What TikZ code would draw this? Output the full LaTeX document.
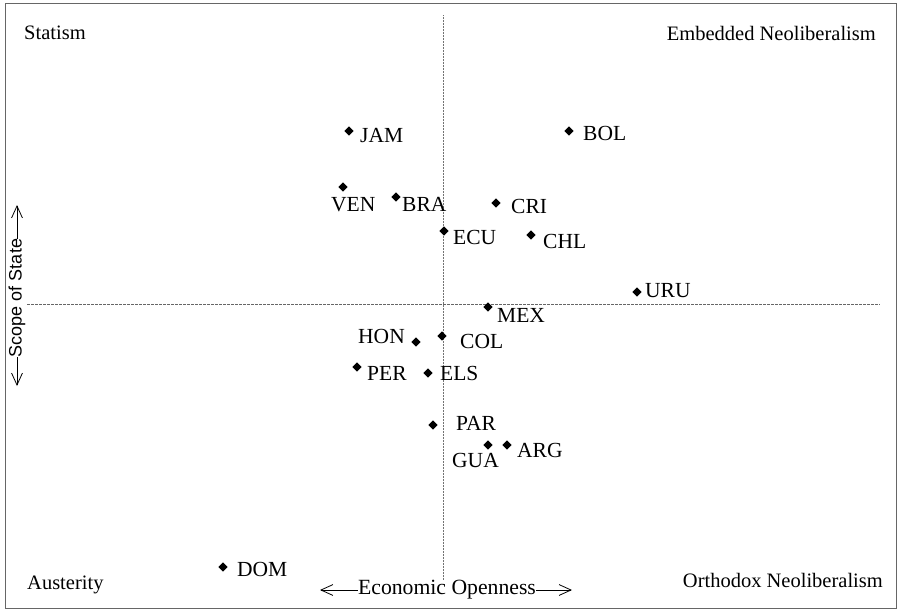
\documentclass[tikz,border=0pt]{standalone}
\usepackage{fontspec}
\setmainfont{Liberation Serif}
\setsansfont{Liberation Sans}
\usetikzlibrary{arrows.meta,positioning,shapes.geometric}
\tikzset{
  ctry/.style={diamond, fill=black, inner sep=0pt, minimum size=9.5pt},
  ctrylab/.style={font=\fontsize{21.5}{23}\selectfont, inner sep=0pt},
  quadlab/.style={font=\fontsize{20.5}{23}\selectfont, inner sep=0pt},
  econlab/.style={font=\fontsize{21.7}{23}\selectfont, inner sep=0pt},
  scopelab/.style={font=\sffamily\fontsize{18}{21}\selectfont, inner sep=0pt, rotate=90},
  vaxis/.style={densely dotted, black!55, line width=0.5pt},
  haxis/.style={dash pattern=on 3pt off 1pt, black!60, line width=0.5pt},
  axarrow/.style={-{Straight Barb[length=4.2mm,width=3.8mm]}, line width=0.8pt},
  framebox/.style={draw=black!60, line width=0.6pt}
}

\begin{document}
\begin{tikzpicture}[x=1pt,y=-1pt]
\useasboundingbox (0,0) rectangle (899,613);
\draw[framebox] (5,3) rectangle (896,608);

% axes
\coordinate (ytop) at (443,15);
\coordinate (ybot) at (443,580);
\coordinate (xleft) at (27,304);
\coordinate (xright) at (880,304);
\draw[vaxis] (ytop) -- (ybot);
\draw[haxis] (xleft) -- (xright);

% quadrant names
\node[quadlab, anchor=base west] (statism) at (24,39) {Statism};
\node[quadlab, anchor=base east] (embedded) at (876,40) {Embedded Neoliberalism};
\node[quadlab, anchor=base west] (austerity) at (27,589) {Austerity};
\node[quadlab, anchor=base east] (orthodox) at (883,587) {Orthodox Neoliberalism};

% axis labels
\node[econlab] (econ) at (447,590) {Economic Openness};
\coordinate (econl) at (320,590);
\coordinate (econr) at (572,590);
\draw[axarrow] (econ.west) -- (econl);
\draw[axarrow] (econ.east) -- (econr);
\node[scopelab] (scope) at (17,298) {Scope of State};
\coordinate (scopeup) at (17,205);
\coordinate (scopedn) at (17,386);
\draw[axarrow] (scope.east) -- (scopeup);
\draw[axarrow] (scope.west) -- (scopedn);

% countries
\node[ctry] (jam) at (349,131) {};
\node[ctrylab, anchor=base west] (jaml) at (360,142) {JAM};
\node[ctry] (bol) at (569,131) {};
\node[ctrylab, anchor=base west] (boll) at (583,140) {BOL};
\node[ctry] (ven) at (343,187) {};
\node[ctrylab, anchor=base west] (venl) at (331,211) {VEN};
\node[ctry] (bra) at (396,197) {};
\node[ctrylab, anchor=base west] (bral) at (402,211) {BRA};
\node[ctry] (cri) at (496,203) {};
\node[ctrylab, anchor=base west] (cril) at (511,213) {CRI};
\node[ctry] (ecu) at (444,231) {};
\node[ctrylab, anchor=base west] (ecul) at (453,244) {ECU};
\node[ctry] (chl) at (531,235) {};
\node[ctrylab, anchor=base west] (chll) at (543,248) {CHL};
\node[ctry] (uru) at (637,292) {};
\node[ctrylab, anchor=base west] (urul) at (645,297) {URU};
\node[ctry] (mex) at (488,307) {};
\node[ctrylab, anchor=base west] (mexl) at (497,322) {MEX};
\node[ctry] (hon) at (416,342) {};
\node[ctrylab, anchor=base east] (honl) at (405,343) {HON};
\node[ctry] (col) at (442,336) {};
\node[ctrylab, anchor=base west] (coll) at (460,348) {COL};
\node[ctry] (per) at (357,367) {};
\node[ctrylab, anchor=base west] (perl) at (367,380) {PER};
\node[ctry] (els) at (428,373) {};
\node[ctrylab, anchor=base west] (elsl) at (440,380) {ELS};
\node[ctry] (par) at (433,425) {};
\node[ctrylab, anchor=base west] (parl) at (456,430) {PAR};
\node[ctry] (gua) at (488,445) {};
\node[ctrylab, anchor=base west] (gual) at (452,467) {GUA};
\node[ctry] (arg) at (507,445) {};
\node[ctrylab, anchor=base west] (argl) at (517,457) {ARG};
\node[ctry] (dom) at (223,567) {};
\node[ctrylab, anchor=base west] (doml) at (237,576) {DOM};
\end{tikzpicture}
\end{document}
